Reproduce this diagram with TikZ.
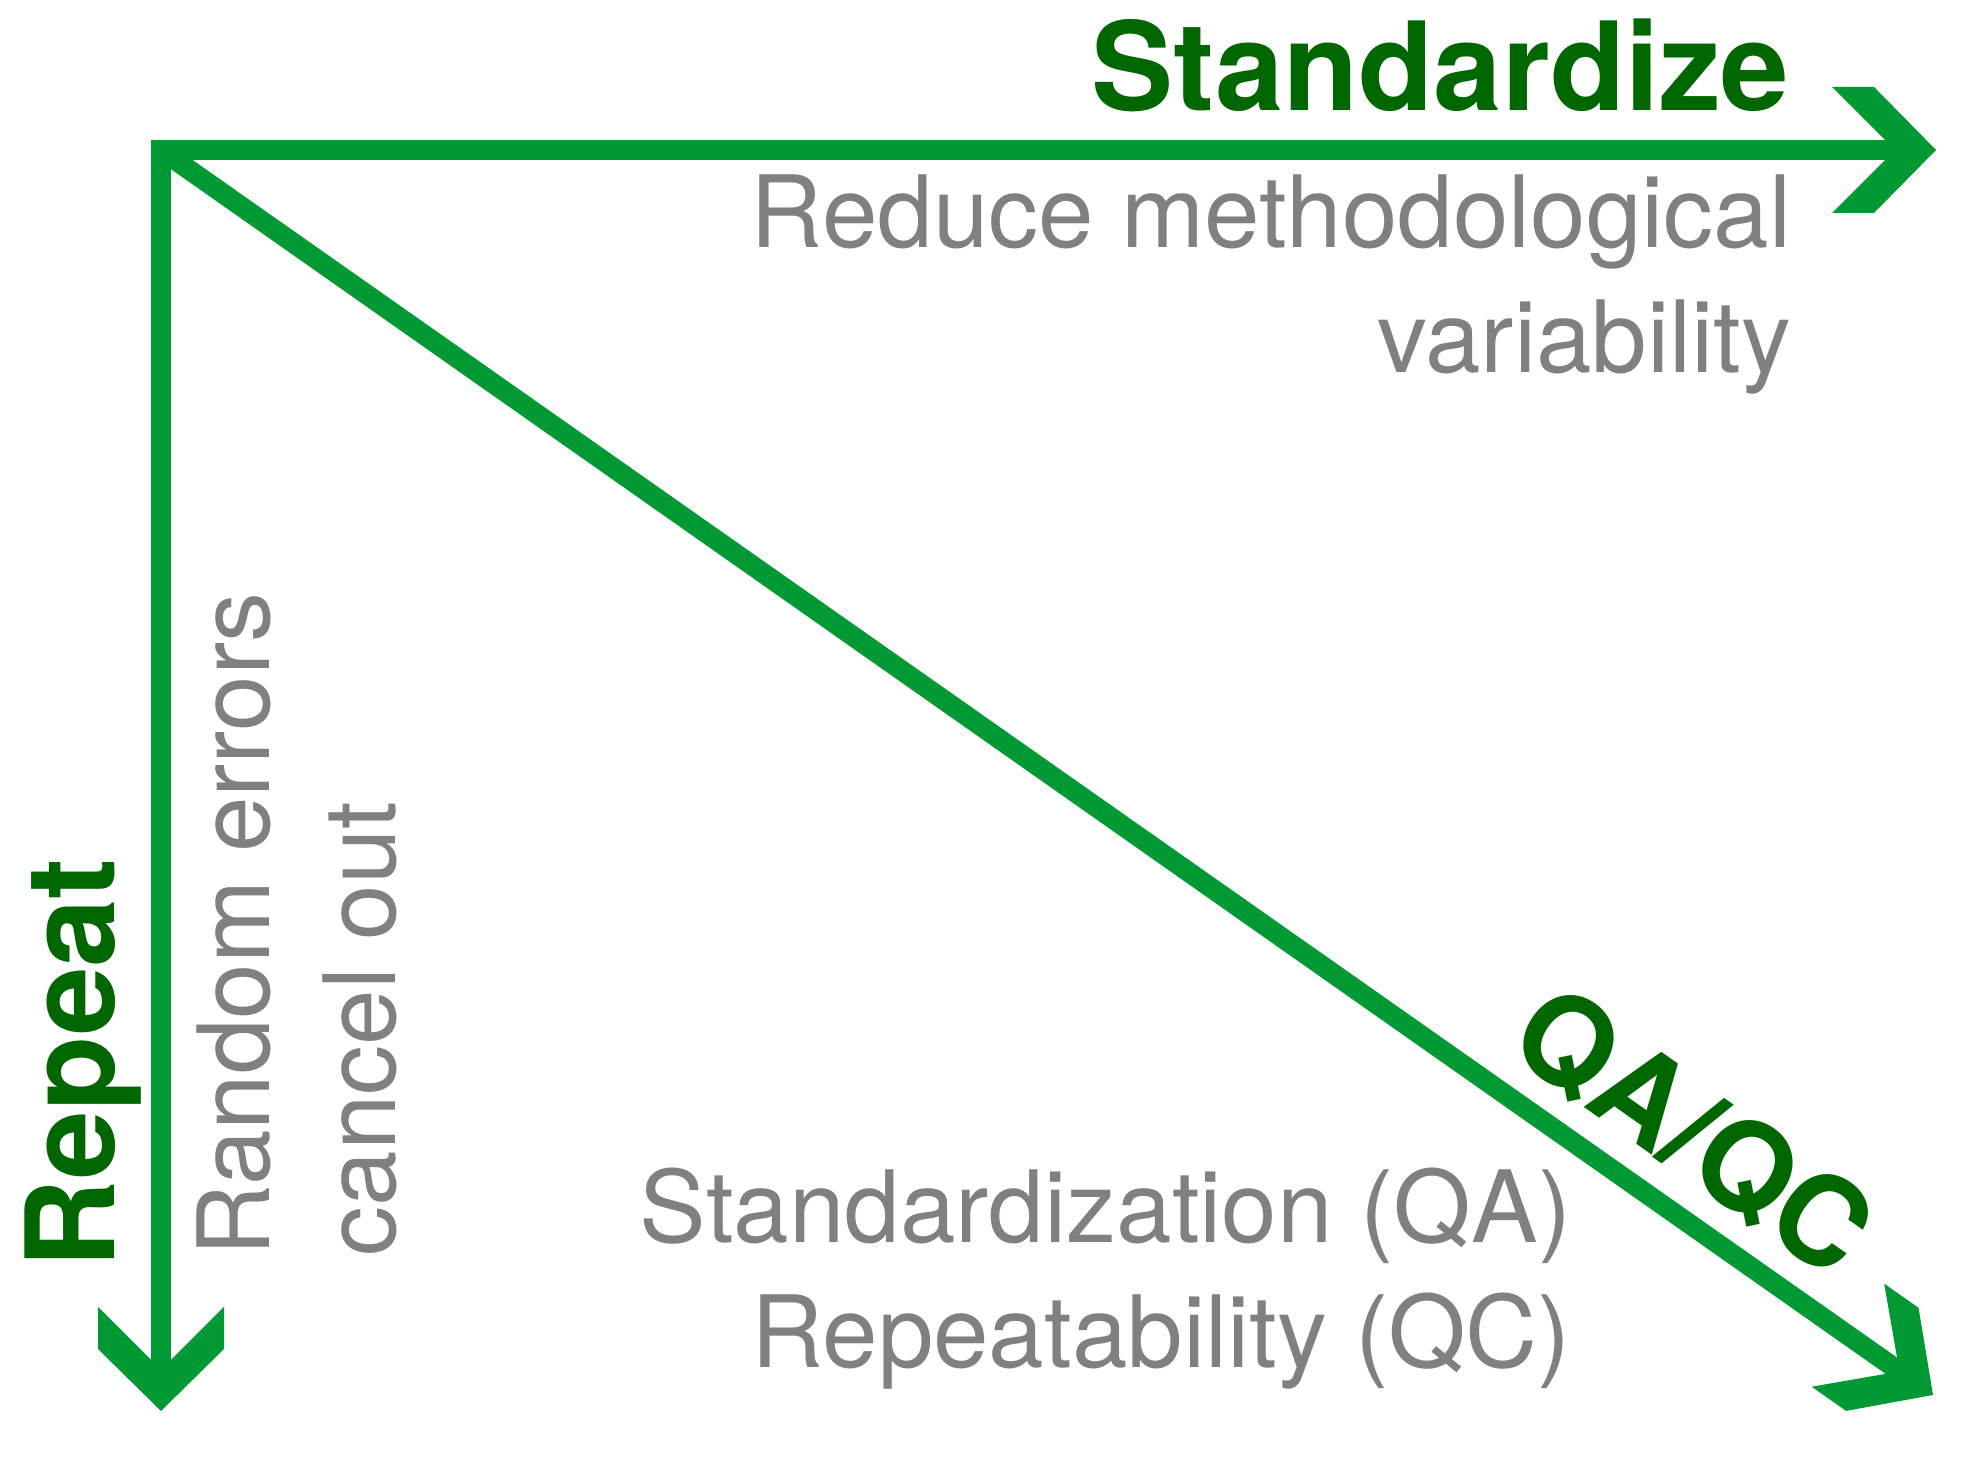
\documentclass[tikz,border=0pt]{standalone}
\usepackage{fontspec}
\setmainfont{TeX Gyre Heros}
\usetikzlibrary{calc}
\definecolor{arrowgreen}{RGB}{0,153,51}
\definecolor{labelgreen}{RGB}{0,102,0}
\definecolor{notegray}{RGB}{128,128,128}

\begin{document}
\begin{tikzpicture}[
  shaft/.style={draw=arrowgreen, line width=0.2cm, line join=miter},
  chevron/.pic={\fill[arrowgreen] (0,0) -- (-0.62,0.63) -- (-1.04,0.63)
    -- (-0.41,0) -- (-1.04,-0.63) -- (-0.62,-0.63) -- cycle;},
  head/.style={inner sep=0pt, text=labelgreen,
    font=\fontsize{35}{42}\selectfont\bfseries},
  note/.style={inner sep=0pt, text=notegray,
    font=\fontsize{28.4}{35.6}\selectfont},
]
\useasboundingbox (0,0) rectangle (19.84,14.76);
%% Corner and arrow tips
\coordinate (O)    at (1.61,13.26);
\coordinate (tipE) at (19.36,13.26);
\coordinate (tipS) at (1.61,0.65);
\coordinate (tipD) at (19.33,0.81);
%% Shafts
\draw[shaft, shorten <=0.35cm, shorten >=0.35cm] (tipE) -- (O) -- (tipS);
\draw[shaft, shorten >=0.35cm] (O) -- (tipD);
%% Chevron heads
\pic at (tipE) {chevron};
\pic[rotate=-90] at (tipS) {chevron};
\pic[rotate=-35.1] at (tipD) {chevron};
%% Top axis (base = last line)
\node[head, anchor=base east] (std) at (17.90,13.65) {Standardize};
\node[note, align=right, anchor=base east] (reduce) at (17.92,11.03)
  {Reduce methodological\\variability};
%% Left axis
\node[head, rotate=90, anchor=base west] (rep) at (1.14,2.07) {Repeat};
\node[note, rotate=90, align=left, anchor=base west] (random) at (3.95,2.19)
  {Random errors\\cancel out};
%% Diagonal
\node[head, rotate=-35.1, anchor=base] (qaqc) at (16.68,3.10) {QA/QC};
\node[note, align=right, anchor=base east] (qanote) at (15.72,1.08)
  {Standardization (QA)\\Repeatability (QC)};
\end{tikzpicture}
\end{document}
